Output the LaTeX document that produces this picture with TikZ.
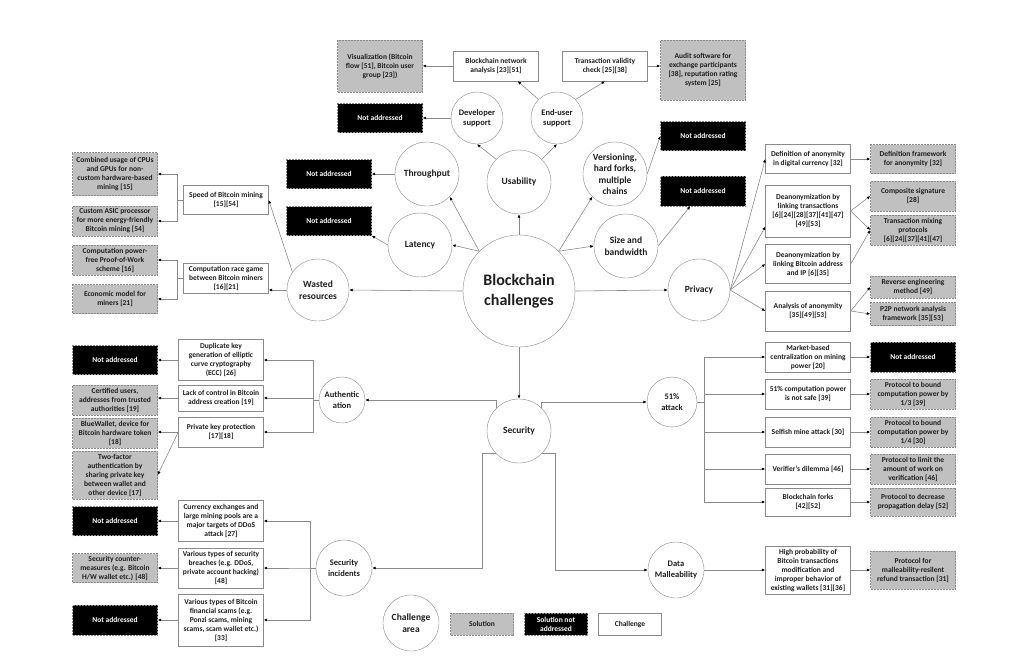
\documentclass[tikz,border=0pt]{standalone}
\usepackage{fontspec}
\setmainfont{Carlito}
\usetikzlibrary{arrows.meta}
\definecolor{lineColor}{HTML}{8A8A8A}
\definecolor{solutionColor}{HTML}{C0C0C0}
\definecolor{textColor}{HTML}{1E1E1E}

\begin{document}
\begin{tikzpicture}[x=1pt, y=-1pt,
		area/.style={circle, draw=lineColor, fill=white, inner sep=0pt, align=center, text=textColor, font=\bfseries\fontsize{9.5}{11.5}\selectfont},
		subarea/.style={area, font=\bfseries\fontsize{8.5}{10.5}\selectfont},
		chal/.style={draw=lineColor, fill=white, minimum width=85pt, inner sep=1pt, align=center, text=textColor, font=\bfseries\fontsize{7.5}{9}\selectfont},
		sol/.style={chal, fill=solutionColor, dash pattern=on 2pt off 1pt},
		nosol/.style={chal, fill=black, text=white, dash pattern=on 2pt off 1pt},
		link/.style={draw=lineColor, line width=0.6pt, -{Latex[length=3.5pt, width=3pt, color=black]}}
		]
		\useasboundingbox (0,0) rectangle (1020,656);

		% Challenge areas
		\node[area, minimum size=112pt, font=\bfseries\fontsize{16}{20}\selectfont] (main) at (519,291) {Blockchain\\challenges};
		\node[area, minimum size=64pt] (usa) at (519,182) {Usability};
		\node[subarea, minimum size=52pt] (dev) at (477,118) {Developer\\support};
		\node[subarea, minimum size=52pt] (endu) at (557,118) {End-user\\support};
		\node[area, minimum size=64pt] (thr) at (427,174) {Throughput};
		\node[area, minimum size=64pt] (lat) at (420,245) {Latency};
		\node[area, minimum size=64pt] (ver) at (615,174) {Versioning,\\hard forks,\\multiple\\chains};
		\node[area, minimum size=64pt] (sizebw) at (626,246) {Size and\\bandwidth};
		\node[area, minimum size=62pt] (waste) at (318,290) {Wasted\\resources};
		\node[area, minimum size=62pt] (priv) at (699,290) {Privacy};
		\node[area, minimum size=64pt] (sec) at (519,431) {Security};
		\node[subarea, minimum size=46pt] (auth) at (342,400) {Authentic\\ation};
		\node[subarea, minimum size=50pt] (att) at (672,402) {51\%\\attack};
		\node[subarea, minimum size=56pt] (inc) at (344,568) {Security\\incidents};
		\node[subarea, minimum size=56pt] (mall) at (676,570) {Data\\Malleability};

		% Usability, throughput, latency, versioning, size
		\node[sol, minimum height=52pt] (vis) at (380,66) {Visualization (Bitcoin\\flow [51], Bitcoin user\\group [23])};
		\node[chal, minimum height=30pt] (bna) at (496,66) {Blockchain network\\analysis [23][51]};
		\node[chal, minimum height=30pt] (tvc) at (605,66) {Transaction validity\\check [25][38]};
		\node[sol, minimum height=60pt] (audit) at (703,70) {Audit software for\\exchange participants\\{}[38], reputation rating\\system [25]};
		\node[nosol, minimum height=29pt] (nadev) at (380,118) {Not addressed};
		\node[nosol, minimum height=29pt] (nathr) at (329,174) {Not addressed};
		\node[nosol, minimum height=29pt] (nalat) at (329,221) {Not addressed};
		\node[nosol, minimum height=29pt] (naver) at (703,136) {Not addressed};
		\node[nosol, minimum height=30pt] (nasize) at (703,191) {Not addressed};

		% Wasted resources
		\node[sol, minimum height=43pt] (cpu) at (115,174) {Combined usage of CPUs\\and GPUs for non-\\custom hardware-based\\mining [15]};
		\node[sol, minimum height=30pt] (asic) at (115,221) {Custom ASIC processor\\for more energy-friendly\\Bitcoin mining [54]};
		\node[chal, minimum height=29pt] (speed) at (226,200) {Speed of Bitcoin mining\\{}[15][54]};
		\node[sol, minimum height=30pt] (pow) at (115,260) {Computation power-\\free Proof-of-Work\\scheme [16]};
		\node[sol, minimum height=29pt] (econ) at (115,299) {Economic model for\\miners [21]};
		\node[chal, minimum height=30pt] (race) at (226,278) {Computation race game\\between Bitcoin miners\\{}[16][21]};

		% Privacy
		\node[chal, minimum height=29pt] (defa) at (808,159) {Definition of anonymity\\in digital currency [32]};
		\node[sol, minimum height=29pt] (deff) at (913,159) {Definition framework\\for anonymity [32]};
		\node[chal, minimum height=52pt] (dtx) at (808,211) {Deanonymization by\\linking transactions\\{}[6][24][28][37][41][47]\\{}[49][53]};
		\node[sol, minimum height=30pt] (comp) at (913,196) {Composite signature\\{}[28]};
		\node[sol, minimum height=30pt, inner sep=0.5pt] (mix) at (913,230) {Transaction mixing\\protocols\\{}[6][24][37][41][47]};
		\node[chal, minimum height=39pt] (dip) at (808,264) {Deanonymization by\\linking Bitcoin address\\and IP [6][35]};
		\node[chal, minimum height=40pt] (ana) at (808,311) {Analysis of anonymity\\{}[35][49][53]};
		\node[sol, minimum height=22pt] (rev) at (913,287) {Reverse engineering\\method [49]};
		\node[sol, minimum height=23pt] (p2p) at (913,314) {P2P network analysis\\framework [35][53]};

		% 51% attack
		\node[chal, minimum height=30pt] (mkt) at (808,357) {Market-based\\centralization on mining\\power [20]};
		\node[nosol, minimum height=30pt] (namkt) at (913,357) {Not addressed};
		\node[chal, minimum height=30pt] (cpw) at (808,394) {51\% computation power\\is not safe [39]};
		\node[sol, minimum height=30pt] (bnd3) at (913,394) {Protocol to bound\\computation power by\\1/3 [39]};
		\node[chal, minimum height=30pt] (self) at (808,432) {Selfish mine attack [30]};
		\node[sol, minimum height=30pt] (bnd4) at (913,432) {Protocol to bound\\computation power by\\1/4 [30]};
		\node[chal, minimum height=30pt] (verd) at (808,469) {Verifier's dilemma [46]};
		\node[sol, minimum height=30pt] (work) at (913,469) {Protocol to limit the\\amount of work on\\verification [46]};
		\node[chal, minimum height=28pt] (fork) at (808,502) {Blockchain forks\\{}[42][52]};
		\node[sol, minimum height=28pt] (delay) at (913,502) {Protocol to decrease\\propagation delay [52]};

		% Data malleability
		\node[chal, minimum height=48pt] (hpm) at (808,570) {High probability of\\Bitcoin transactions\\modification and\\improper behavior of\\existing wallets [31][36]};
		\node[sol, minimum height=38pt] (refund) at (913,570) {Protocol for\\malleability-resilent\\refund transaction [31]};

		% Authentication
		\node[nosol, minimum height=29pt] (nadup) at (115,360) {Not addressed};
		\node[chal, minimum height=41pt] (dup) at (221,360) {Duplicate key\\generation of elliptic\\curve cryptography\\(ECC) [26]};
		\node[sol, minimum height=30pt] (cert) at (115,400) {Certified users,\\addresses from trusted\\authorities [19]};
		\node[chal, minimum height=26pt] (lack) at (221,398) {Lack of control in Bitcoin\\address creation [19]};
		\node[sol, minimum height=30pt] (blue) at (115,433) {BlueWallet, device for\\Bitcoin hardware token\\{}[18]};
		\node[chal, minimum height=30pt] (pkp) at (221,432) {Private key protection\\{}[17][18]};
		\node[sol, minimum height=48pt] (twof) at (115,475) {Two-factor\\authentication by\\sharing private key\\between wallet and\\other device [17]};

		% Security incidents
		\node[nosol, minimum height=29pt] (naddos) at (115,521) {Not addressed};
		\node[chal, minimum height=41pt] (ddos) at (221,521) {Currency exchanges and\\large mining pools are a\\major targets of DDoS\\attack [27]};
		\node[sol, minimum height=29pt] (cm) at (115,568) {Security counter-\\measures (e.g. Bitcoin\\H/W wallet etc.) [48]};
		\node[chal, minimum height=40pt] (brea) at (221,568) {Various types of security\\breaches (e.g. DDoS,\\private account hacking)\\{}[48]};
		\node[nosol, minimum height=30pt] (nascam) at (115,620) {Not addressed};
		\node[chal, minimum height=52pt] (scam) at (221,620) {Various types of Bitcoin\\financial scams (e.g.\\Ponzi scams, mining\\scams, scam wallet etc.)\\{}[33]};

		% Legend
		\node[area, minimum size=56pt] (lgarea) at (411,623) {Challenge\\area};
		\node[sol, minimum width=63pt, minimum height=22pt] (lgsol) at (482,624) {Solution};
		\node[nosol, minimum width=63pt, minimum height=22pt] (lgnosol) at (556,624) {Solution not\\addressed};
		\node[chal, minimum width=63pt, minimum height=22pt] (lgchal) at (630,624) {Challenge};

		% Links from the centre
		\draw[link] (main.north) -- (usa.south);
		\draw[link] (main.135) -- (thr.315);
		\draw[link] (main.135) -- (lat.east);
		\draw[link] (main.45) -- (ver.225);
		\draw[link] (main.45) -- (sizebw.west);
		\draw[link] (main.west) -- (waste.east);
		\draw[link] (main.east) -- (priv.west);
		\draw[link] (main.south) -- (sec.north);

		% Upper links
		\draw[link] (usa.135) -- (dev.south);
		\draw[link] (usa.45) -- (endu.south);
		\draw[link] (dev.west) -- (nadev.east);
		\draw[link] (endu.135) -- (bna.325);
		\draw[link] (endu.45) -- (tvc.south);
		\draw[link] (bna.west) -- (vis.east);
		\draw[link] (tvc.east) -- (tvc.east -| audit.west);
		\draw[link] (thr.west) -- (nathr.east);
		\draw[link] (lat.west) -- (nalat.south east);
		\draw[link] (ver.east) -- (naver.west);
		\draw[link] (sizebw.east) -- (nasize.230);

		% Wasted resources links
		\draw[link] (waste.145) -- (speed.east);
		\draw[link] (waste.west) -- (race.east |- waste.west);
		\draw[link] (speed.west) -- ++(-6,0) |- (cpu.east);
		\draw[link] (speed.west) -- ++(-6,0) |- (asic.east);
		\draw[link] (race.west) -- ++(-6,0) |- (pow.east);
		\draw[link] (race.west) -- ++(-6,0) |- (econ.east);

		% Privacy links
		\draw[link] (priv.east) -- (defa.west);
		\draw[link] (priv.east) -- (dtx.200);
		\draw[link] (priv.east) -- (dip.west);
		\draw[link] (priv.east) -- (ana.west);
		\draw[link] (defa.east) -- (deff.west);
		\draw[link] (dtx.east) -- (comp.west);
		\draw[link] (dtx.east) -- (mix.west);
		\draw[link] (dip.east) -- (mix.west);
		\draw[link] (ana.east) -- (rev.west);
		\draw[link] (ana.east) -- (p2p.west);

		% Security links
		\draw[link] (sec.north west) |- (auth.east);
		\draw[link] (sec.north east) |- (att.west);
		\draw[link] (sec.south west) -- ++(-14,0) |- (inc.east);
		\draw[link] (sec.south east) -- ++(14,0) |- (mall.west);

		\draw[link] (auth.west) -- ++(-6,0) |- (dup.east);
		\draw[link] (auth.west) -- ++(-6,0) |- (lack.east);
		\draw[link] (auth.west) -- ++(-6,0) |- (pkp.east);
		\draw[link] (dup.west) -- (nadup.east);
		\draw[link] (lack.west) -- (lack.west -| cert.east);
		\draw[link] (pkp.west) -- (pkp.west -| blue.east);
		\draw[link] (pkp.west) -- (twof.east);

		\foreach \c/\s in {mkt/namkt, cpw/bnd3, self/bnd4, verd/work, fork/delay} {
			\draw[link] (att.east) -- ++(7,0) |- (\c.west);
			\draw[link] (\c.east) -- (\s.west);
		}

		\draw[link] (inc.west) -- ++(-6,0) |- (ddos.east);
		\draw[link] (inc.west) -- ++(-6,0) |- (brea.east);
		\draw[link] (inc.west) -- ++(-6,0) |- (scam.east);
		\draw[link] (ddos.west) -- (naddos.east);
		\draw[link] (brea.west) -- (cm.east);
		\draw[link] (scam.west) -- (nascam.east);

		\draw[link] (mall.east) -- (hpm.west);
		\draw[link] (hpm.east) -- (refund.west);
	\end{tikzpicture}
\end{document}
